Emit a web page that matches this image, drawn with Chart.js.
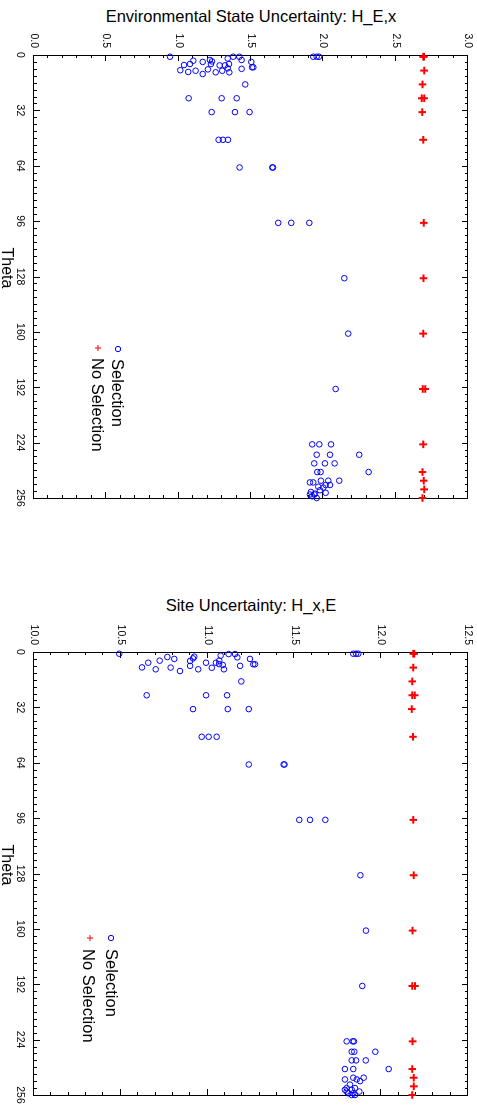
<!DOCTYPE html>
<html><head><meta charset="utf-8">
<script src="https://cdn.jsdelivr.net/npm/chart.js@4.4.1/dist/chart.umd.min.js"></script>
<style>
html,body{margin:0;padding:0;background:#fff;overflow:hidden;width:477px;height:1111px;}
#wrap{position:relative;width:477px;height:1111px;overflow:hidden;background:#fff;}
.ttl{position:absolute;left:34px;width:434px;text-align:center;font-family:'Liberation Sans',Arial,Helvetica,sans-serif;font-size:16.5px;line-height:20px;color:#000;white-space:nowrap;}
canvas.rot{position:absolute;left:0;transform-origin:0 0;transform:translate(477px,0) rotate(90deg);}
</style></head><body>
<div id="wrap">
<div class="ttl" style="top:6px">Environmental State Uncertainty: H_E,x</div>
<div class="ttl" style="top:595px">Site Uncertainty: H_x,E</div>
<canvas id="c1" class="rot" width="510" height="477" style="top:0px"></canvas>
<canvas id="c2" class="rot" width="510" height="477" style="top:597px"></canvas>
</div>
<script>
const FONT = "'Liberation Sans', Arial, Helvetica, sans-serif";
const seriesNames = ['Selection', 'No Selection'];
const thetaTitle = 'Theta';
const thetaTicks = [0, 32, 64, 96, 128, 160, 192, 224, 256];
const envTicks = [0.0, 0.5, 1.0, 1.5, 2.0, 2.5, 3.0];
const siteTicks = [10.0, 10.5, 11.0, 11.5, 12.0, 12.5];

const envSelTheta = [1,1,1,1,1,1,2,3.3,2.9,3.7,2.9,4,4,5.8,5.2,5.2,6,6,5.2,7.1,7.1,8,7.7,9.1,10,10,8.3,9.1,9.8,8.8,11,17,25,25,25,33,33,33,49,49,49,65,65,65,97,97,97,129,161,193,225,225,225,231,231,231,236,236,236,241,241,241,246,247,247,246,246,248.5,248.5,249.5,250,252.5,253.5,251.5,253,255,256,254,254];
const envSelValue = [0.94,1.93,1.954,1.97,1.377,1.419,1.339,1.101,1.216,1.23,1.435,1.166,1.502,1.037,1.078,1.223,1.283,1.32,1.348,1.507,1.516,1.435,1.339,1.301,1.35,1.256,1.202,1.117,1.066,1.011,1.166,1.46,1.069,1.297,1.401,1.228,1.389,1.49,1.276,1.306,1.341,1.421,1.647,1.652,1.688,1.778,1.903,2.145,2.172,2.085,1.923,1.972,2.053,2.248,1.954,2.046,1.937,2.011,2.078,2.313,1.958,1.981,2.11,1.907,1.93,1.983,2.034,2.016,2.046,1.965,2.0,1.914,1.942,1.977,2.016,1.923,1.954,1.937,1.907];
const envNoSelTheta = [1,1,9,17,25,25,33,49,97,129,161,193,193,225,241,246,251,256];
const envNoSelValue = [2.690,2.695,2.697,2.686,2.681,2.697,2.684,2.690,2.694,2.692,2.690,2.688,2.704,2.690,2.686,2.694,2.697,2.686];

const siteSelTheta = [1,1,1,1,6.2,8.9,10,5,2.9,4,9,11,8,5.2,3.7,2.7,10,6.2,9.1,6.2,5,2.1,7,7.5,10,1.2,1.2,3.1,8,4,7.1,7.1,17,25,25,25,33,33,33,49,49,49,65,65,65,97,97,97,129,161,193,225,225,225,231,231,231,236,236,236,241,241,241,246,247,246,247,248,250,252,253,253,252,254,255,256,256,255,254];
const siteSelValue = [10.491,11.839,11.855,11.868,10.658,10.622,10.701,10.724,10.768,10.808,10.787,10.841,10.899,10.899,10.916,10.923,10.946,10.991,11.024,11.048,11.067,11.075,11.066,11.087,11.094,11.121,11.158,11.171,11.187,11.244,11.263,11.273,11.194,10.649,10.991,11.112,10.916,11.116,11.237,10.966,11.006,11.052,11.237,11.438,11.443,11.528,11.59,11.678,11.88,11.912,11.891,11.801,11.836,11.843,11.966,11.83,11.845,11.83,11.855,11.911,12.043,11.791,11.839,11.899,11.791,11.839,11.859,11.878,11.82,11.801,11.791,11.83,11.849,11.874,11.811,11.83,11.849,11.839,11.801];
const siteNoSelTheta = [1,1,9,17,25,25,33,49,97,129,161,193,193,225,241,246,251,256];
const siteNoSelValue = [12.185,12.19,12.185,12.179,12.179,12.193,12.176,12.183,12.185,12.187,12.181,12.179,12.195,12.181,12.179,12.187,12.188,12.179];

function pts(t, v) { return t.map((th, i) => ({x: th, y: v[i]})); }

function framePlugin(legendPos) {
  return {
    id: 'frame',
    beforeDatasetsDraw(chart) {
      const {ctx, chartArea: a, scales: {x, y}} = chart;
      const r = p => Math.round(p) + 0.5;
      ctx.save();
      ctx.strokeStyle = '#000';
      ctx.lineWidth = 1;
      ctx.strokeRect(r(a.left), r(a.top), Math.round(a.right) - Math.round(a.left), Math.round(a.bottom) - Math.round(a.top));
      ctx.beginPath();
      for (let t = x.min; t <= x.max + 1e-9; t += 4) {
        const px = r(x.getPixelForValue(t));
        const len = (Math.abs(t % 32) < 1e-6) ? 6 : 3;
        ctx.moveTo(px, a.bottom); ctx.lineTo(px, a.bottom - len);
        ctx.moveTo(px, a.top); ctx.lineTo(px, a.top + len);
      }
      const n = Math.round((y.max - y.min) / 0.1);
      for (let k = 0; k <= n; k++) {
        const v = y.min + k * 0.1;
        const py = r(y.getPixelForValue(v));
        const len = (k % 5 === 0) ? 6 : 3;
        ctx.moveTo(a.left, py); ctx.lineTo(a.left + len, py);
        ctx.moveTo(a.right, py); ctx.lineTo(a.right - len, py);
      }
      ctx.stroke();
      ctx.fillStyle = '#000';
      ctx.font = '16px ' + FONT;
      ctx.textAlign = 'center';
      ctx.textBaseline = 'alphabetic';
      ctx.fillText(thetaTitle, 268, 475);
      const L = legendPos;
      ctx.font = '16.5px ' + FONT;
      ctx.textAlign = 'left';
      ctx.strokeStyle = '#0000ff';
      ctx.beginPath(); ctx.arc(L.m1[0], L.m1[1], 2.7, 0, Math.PI * 2); ctx.stroke();
      ctx.fillText(seriesNames[0], L.t1[0], L.t1[1]);
      ctx.strokeStyle = '#ff0000';
      ctx.beginPath();
      ctx.moveTo(L.m2[0] - 3, L.m2[1]); ctx.lineTo(L.m2[0] + 3, L.m2[1]);
      ctx.moveTo(L.m2[0], L.m2[1] - 3); ctx.lineTo(L.m2[0], L.m2[1] + 3);
      ctx.stroke();
      ctx.fillText(seriesNames[1], L.t2[0], L.t2[1]);
      ctx.restore();
    }
  };
}

function makeChart(id, selT, selV, noT, noV, vTicks, legendPos) {
  const vmin = vTicks[0], vmax = vTicks[vTicks.length - 1];
  return new Chart(document.getElementById(id), {
    type: 'scatter',
    data: {
      datasets: [
        {label: seriesNames[0], data: pts(selT, selV), pointStyle: 'circle', pointRadius: 2.8, pointHoverRadius: 2.8,
         borderColor: '#0000ff', backgroundColor: 'rgba(0,0,0,0)', borderWidth: 1, showLine: false, clip: false},
        {label: seriesNames[1], data: pts(noT, noV), pointStyle: 'cross', pointRadius: 3.8, pointHoverRadius: 3.8,
         borderColor: '#ff0000', backgroundColor: '#ff0000', borderWidth: 2, showLine: false, clip: false}
      ]
    },
    options: {
      responsive: false, animation: false, devicePixelRatio: 1,
      layout: {padding: {left: 0, right: 12, top: 9, bottom: 0}},
      plugins: {legend: {display: false}, tooltip: {enabled: false}, title: {display: false}},
      events: [],
      scales: {
        x: {
          type: 'linear', position: 'bottom', min: thetaTicks[0], max: thetaTicks[thetaTicks.length - 1],
          grid: {display: false, drawTicks: false, tickLength: 0}, border: {display: false},
          afterBuildTicks: s => { s.ticks = thetaTicks.map(v => ({value: v})); },
          ticks: {autoSkip: false, maxRotation: 0, minRotation: 0, padding: 8, color: '#000',
                  font: {family: FONT, size: 10.5}, callback: v => String(v)},
          afterFit: s => { s.height = 34; s.paddingLeft = 0; s.paddingRight = 0; s.paddingTop = 0; s.paddingBottom = 0; }
        },
        y: {
          type: 'linear', position: 'left', min: vmin, max: vmax,
          grid: {display: false, drawTicks: false, tickLength: 0}, border: {display: false},
          afterBuildTicks: s => { s.ticks = vTicks.map(v => ({value: v})); },
          ticks: {autoSkip: false, padding: 7, color: '#000', font: {family: FONT, size: 10.5},
                  callback: v => Number(v).toFixed(1)},
          afterFit: s => { s.width = 55; s.paddingLeft = 0; s.paddingRight = 0; s.paddingTop = 0; s.paddingBottom = 0; }
        }
      }
    },
    plugins: [framePlugin(legendPos)]
  });
}

makeChart('c1', envSelTheta, envSelValue, envNoSelTheta, envNoSelValue, envTicks,
  {m1: [349, 359], t1: [359, 365], m2: [348, 379], t2: [358, 385]});
makeChart('c2', siteSelTheta, siteSelValue, siteNoSelTheta, siteNoSelValue, siteTicks,
  {m1: [341, 366], t1: [352, 371], m2: [341, 387], t2: [352, 394]});
</script>
</body></html>
